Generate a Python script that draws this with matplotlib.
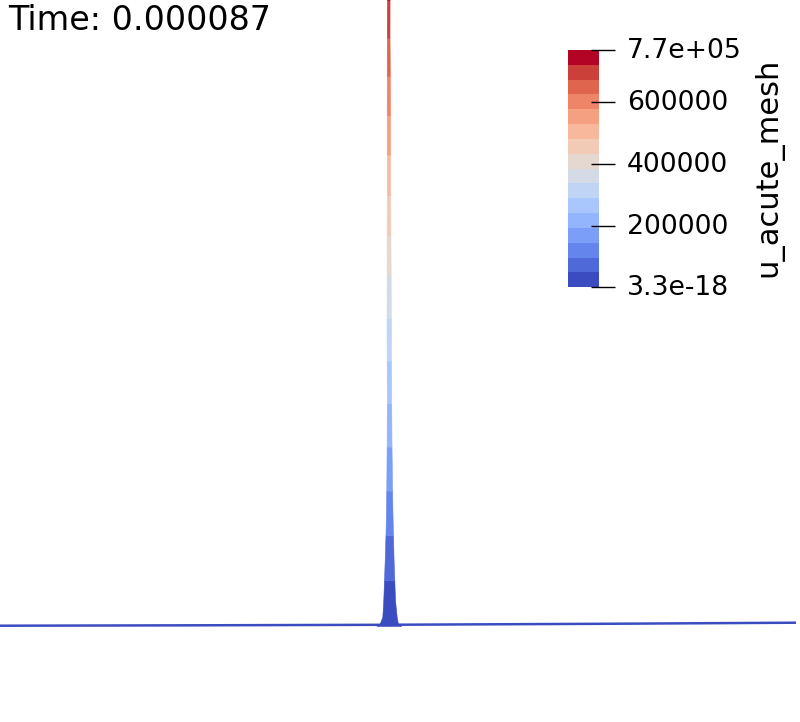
import numpy as np
import matplotlib
matplotlib.use("Agg")
import matplotlib.pyplot as plt
from matplotlib.colors import BoundaryNorm
from matplotlib.cm import ScalarMappable

# ---------------- data ----------------
time_label = "Time: 0.000087"
field_name = "u_acute_mesh"
u_min, u_max = 3.3e-18, 7.7e5
n_colors = 16
tick_values = [3.3e-18, 200000, 400000, 600000, 7.7e5]
tick_labels = ["3.3e-18", "200000", "400000", "600000", "7.7e+05"]

# silhouette of the spike: height u and left / right edge x
spike_u = [0, 2100, 9400, 27300, 48500, 72900, 97000, 123000, 146000,
           192500, 244000, 320000, 474500, 563000, 679500, 750000, 770000]
spike_left = [376.5, 379.5, 382.3, 383.3, 384.0, 384.8, 385.5, 386.0, 386.3,
              386.6, 386.8, 386.5, 386.7, 386.7, 386.8, 387.0, 388.2]
spike_right = [401.0, 398.0, 396.7, 395.0, 394.3, 393.5, 393.0, 392.4, 392.1,
               391.5, 391.2, 391.0, 390.2, 390.2, 389.5, 389.6, 388.4]

# flat part of the surface (seen edge-on)
base_x = [0, 200, 380, 600, 796]
base_u = [300, 730, 1250, 2300, 3450]

# ---------------- figure ----------------
W, H = 800, 722
fig = plt.figure(figsize=(W / 100, H / 100), dpi=100)
fig.patch.set_facecolor("white")

band = u_max / n_colors
A, B = 45.98, 0.283  # perspective of the view


def fwd(u):
    k = np.asarray(u, dtype=float) / band
    return A * k - B * k * k


def inv(h):
    h = np.asarray(h, dtype=float)
    return (A - np.sqrt(np.maximum(A * A - 4 * B * h, 0.0))) / (2 * B) * band


ax = fig.add_axes([0, 0, 1, 1])
ax.set_yscale("function", functions=(fwd, inv))
ax.set_xlim(0, W)
ax.set_ylim(inv(-96.0), inv(626.0))
ax.axis("off")

cmap = plt.get_cmap("coolwarm", n_colors)
bounds = np.linspace(0, u_max, n_colors + 1)

# baseline surface
ax.plot(base_x, base_u, color="#3b4cc0", lw=1.8, solid_capstyle="butt", zorder=2)

# spike coloured by its value
su = np.array(spike_u, float)
sl = np.array(spike_left, float)
sr = np.array(spike_right, float)
for i in range(n_colors):
    lo, hi = bounds[i], bounds[i + 1]
    if lo >= su.max():
        break
    inside = (su > lo) & (su < hi)
    us = np.r_[lo, su[inside], min(hi, su.max())]
    xl = np.interp(us, su, sl)
    xr = np.interp(us, su, sr)
    c = cmap(i)
    ax.fill_betweenx(us, xl, xr, facecolor=c, edgecolor=c, lw=0.4, zorder=3)

# time annotation
fig.text(8 / W, 1 - 29.5 / H, time_label, fontsize=24, va="baseline",
         ha="left", color="black", family="DejaVu Sans")

# ---------------- colour bar ----------------
cax = fig.add_axes([568 / W, 1 - 287.3 / H, 31.3 / W, 237.3 / H])
sm = ScalarMappable(norm=BoundaryNorm(bounds, n_colors), cmap=cmap)
cb = fig.colorbar(sm, cax=cax)
cb.outline.set_visible(False)
cax.minorticks_off()
cax.set_yticks([])
cax.set_xticks([])
cax.tick_params(which="both", length=0, labelleft=False, labelright=False)
cax.set_ylim(0, u_max)
trans = cax.get_yaxis_transform()
for v, lab in zip(tick_values, tick_labels):
    cax.plot([0.742, 1.516], [v, v], color="black", lw=1.0, transform=trans,
             clip_on=False, solid_capstyle="butt")
    cax.annotate(lab, xy=(1.88, v), xycoords=trans, xytext=(0, 2),
                 textcoords="offset pixels", fontsize=19.2,
                 va="center_baseline", ha="left", color="black",
                 family="DejaVu Sans", annotation_clip=False)

fig.text(768 / W, 1 - 167.5 / H, field_name, rotation=90, fontsize=22,
         ha="center", va="center", color="black", family="DejaVu Sans")

fig.savefig("out.png", dpi=100, facecolor="white")
